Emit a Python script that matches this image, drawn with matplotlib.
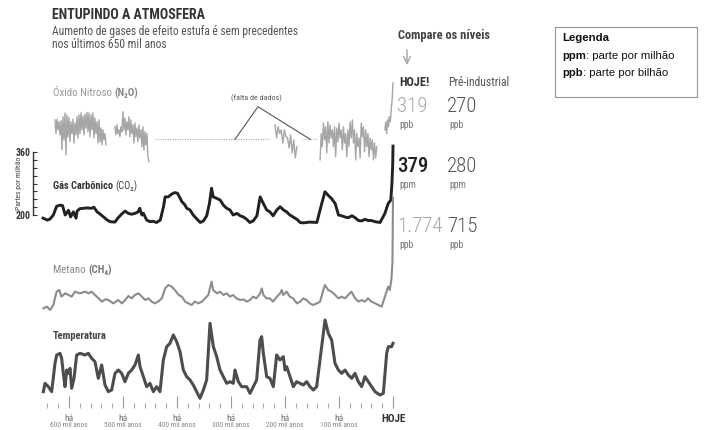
import numpy as np
import matplotlib
matplotlib.use("Agg")
import matplotlib.pyplot as plt
from matplotlib import font_manager
from matplotlib.patches import Rectangle, FancyArrowPatch
from matplotlib.transforms import blended_transform_factory

# ---------------- data (time = thousand years before present) ----------------
co2_time = [648, 640, 635, 629, 623, 617, 612, 607, 601, 597, 592, 587, 585, 580, 567, 558, 554, 548, 543, 536,
            530, 524, 515, 509, 502, 496, 490, 484, 478, 472, 469, 465, 462, 459, 456, 450, 444, 438, 431, 425,
            422, 416, 410, 404, 399, 394, 391, 385, 382, 376, 370, 364, 357, 351, 345, 340, 336, 333, 326, 320,
            314, 308, 302, 296, 289, 283, 277, 271, 265, 259, 252, 246, 240, 234, 228, 222, 215, 209, 203, 197,
            191, 185, 178, 172, 166, 154, 141, 132, 126, 120, 114, 107, 101, 95, 89, 83, 76, 70, 64, 58,
            52, 46, 40, 33, 24, 15, 9, 4, 2, 0.5, 0]
co2_ppm = [192, 187, 190, 200, 222, 225, 224, 200, 212, 195, 208, 192, 210, 216, 218, 217, 220, 208, 203, 195,
           188, 183, 182, 193, 203, 210, 204, 202, 204, 208, 217, 200, 204, 195, 187, 183, 184, 181, 187, 221,
           246, 246, 253, 257, 255, 242, 234, 225, 217, 213, 200, 191, 181, 185, 198, 229, 268, 246, 242, 238,
           225, 217, 213, 200, 204, 198, 195, 189, 181, 185, 198, 246, 229, 213, 208, 198, 213, 221, 213, 208,
           200, 195, 189, 181, 180, 182, 181, 229, 259, 250, 242, 229, 200, 198, 195, 193, 198, 193, 186, 185,
           189, 186, 186, 183, 181, 204, 229, 238, 280, 330, 375]

ch4_time = [647.5, 641, 635, 629, 623, 618, 614, 607, 601, 595, 589, 580, 570, 564, 558, 552, 545, 539, 533, 527,
            518, 509, 502, 496, 490, 484, 478, 471, 465, 459, 453, 447, 441, 435, 428, 422, 416, 410, 404, 397,
            391, 385, 379, 373, 367, 360, 354, 348, 342, 336, 333, 326, 320, 314, 308, 302, 296, 290, 283, 277,
            271, 265, 259, 253, 246, 243, 240, 234, 228, 222, 215, 209, 206, 203, 197, 191, 185, 178, 172, 166,
            160, 154, 148, 141, 135, 129, 126, 120, 114, 107, 101, 95, 89, 83, 77, 70, 64, 58, 52, 46,
            40, 33, 27, 21, 15, 9, 6, 3, 1, 0]
ch4_ppb = [351, 375, 328, 398, 585, 608, 515, 561, 538, 515, 585, 561, 585, 561, 585, 538, 491, 445, 477, 468,
           421, 468, 421, 468, 524, 491, 538, 561, 515, 468, 491, 445, 421, 445, 491, 631, 678, 655, 608, 538,
           515, 445, 421, 398, 445, 421, 445, 491, 538, 725, 608, 561, 585, 538, 561, 515, 538, 491, 468, 477,
           445, 468, 515, 491, 561, 631, 538, 491, 491, 445, 515, 561, 608, 538, 585, 515, 491, 421, 445, 491,
           468, 421, 398, 421, 445, 608, 678, 608, 585, 538, 491, 515, 491, 538, 585, 491, 445, 468, 445, 491,
           445, 421, 398, 375, 515, 655, 608, 748, 1000, 1900]

temp_time = [647.5, 644.4, 638.3, 632.1, 625.9, 622.8, 616.7, 613.6, 610.5, 607.4,
             604.3, 601.2, 598.1, 595.1, 590.7, 585.8, 579.6, 570.4, 564.2, 558.0,
             551.9, 545.7, 539.5, 533.3, 527.2, 521.0, 514.8, 508.6, 502.5, 496.3,
             490.1, 483.9, 477.8, 471.6, 468.5, 462.3, 456.2, 450.0, 443.8, 437.7,
             431.5, 425.3, 419.1, 413.0, 406.8, 400.6, 394.4, 388.3, 382.1, 375.9,
             369.8, 363.6, 357.4, 351.2, 345.1, 338.9, 332.7, 326.5, 320.4, 314.2,
             308.0, 301.9, 295.7, 292.6, 286.4, 280.2, 271.0, 264.8, 258.6, 252.5,
             246.3, 243.2, 240.1, 233.9, 227.8, 221.6, 215.4, 209.3, 203.1, 200.0,
             196.9, 190.7, 184.6, 178.4, 172.2, 166.0, 159.9, 153.7, 147.5, 141.4,
             132.1, 125.9, 119.8, 113.6, 107.4, 101.2, 95.1, 88.9, 82.7, 76.5,
             70.4, 64.2, 58.0, 51.9, 45.7, 39.5, 33.3, 24.1, 17.9, 11.7,
             8.6, 2.5, 0]
temp_anom = [-8.9, -7.4, -8.0, -8.9, -3.8, -2.3, -2.0, -2.9, -5.6, -8.0,
             -5.0, -5.6, -4.7, -8.3, -6.5, -2.3, -2.0, -2.3, -2.0, -2.9,
             -3.5, -6.5, -4.1, -7.7, -8.9, -8.6, -5.6, -5.0, -5.6, -7.1,
             -5.6, -5.0, -4.1, -2.3, -4.4, -6.2, -8.0, -7.4, -8.9, -8.0,
             -8.9, -3.2, -0.8, -0.2, 1.3, 0.1, -1.7, -5.0, -6.2, -6.8,
             -7.7, -8.9, -10.1, -8.6, -6.8, 3.4, -0.8, -2.6, -5.0, -6.2,
             -7.4, -7.1, -7.4, -5.0, -7.1, -8.0, -8.0, -9.2, -8.0, -6.8,
             0.4, 1.0, -2.0, -6.2, -6.5, -8.0, -2.3, -3.2, -2.6, -5.0,
             -4.4, -6.2, -8.0, -7.1, -7.4, -7.7, -7.1, -8.0, -8.6, -8.0,
             -0.8, 4.0, 1.6, 0.4, -3.8, -5.0, -5.6, -5.0, -5.9, -6.5,
             -5.6, -7.1, -8.0, -6.2, -7.1, -8.0, -8.9, -9.5, -9.2, -2.0,
             -0.8, -0.8, -0.2]

# N2O: segments of evenly sampled record (start, end in kyr ago) + values in ppb
n2o_spans = [(626, 531.5), (515, 452), (218.5, 178), (135, 30), (15, 0)]
n2o_seg1 = [269, 247, 270, 253, 266, 245, 268, 221, 274, 237, 280, 213, 277, 242, 273, 234, 266, 247, 270, 232,
            264, 245, 274, 240, 277, 247, 280, 253, 275, 245, 278, 256, 281, 250, 280, 242, 277, 253, 280, 240,
            272, 247, 266, 232, 269, 234, 256, 229, 253, 237, 247, 229]
n2o_seg2 = [258, 245, 261, 247, 253, 242, 258, 250, 282, 253, 272, 245, 266, 253, 274, 242, 269, 247, 261, 232,
            264, 242, 256, 234, 261, 240, 253, 226, 258, 221, 250, 229, 247, 210, 202]
n2o_seg3 = [261, 240, 258, 247, 253, 232, 253, 242, 240, 224, 245, 216, 237, 208, 226]
n2o_seg4 = [205, 247, 226, 264, 237, 258, 216, 266, 232, 261, 240, 253, 226, 258, 210, 256, 234, 264, 240, 253,
            221, 258, 232, 247, 210, 253, 226, 266, 240, 269, 232, 253, 205, 247, 226, 240, 208, 264, 242, 258,
            218, 253, 226, 247, 210, 240, 221, 237, 205, 232, 208, 226]
n2o_seg5 = [253, 266, 247, 269, 258, 274, 266, 285, 301, 328]
n2o_segments = [n2o_seg1, n2o_seg2, n2o_seg3, n2o_seg4, n2o_seg5]
n2o_gaps = [(441, 228), (166, 141)]   # missing data (kyr ago)
n2o_gap_level = 238

time_major = [600, 500, 400, 300, 200, 100, 0]
time_top = ["há", "há", "há", "há", "há", "há", "HOJE"]
time_bottom = ["600 mil anos", "500 mil anos", "400 mil anos", "300 mil anos",
               "200 mil anos", "100 mil anos", ""]

compare_today = ["319", "379", "1.774"]
compare_pre = ["270", "280", "715"]
compare_units = ["ppb", "ppm", "ppb"]

# ---------------- figure ----------------
W, H = 705, 430
fig = plt.figure(figsize=(W / 100, H / 100), dpi=100)
fig.patch.set_facecolor("white")

avail = {f.name for f in font_manager.fontManager.ttflist}
def pick(*names):
    for n in names:
        if n in avail:
            return n
    return "DejaVu Sans"
COND = pick("Roboto Condensed", "Liberation Sans Narrow", "Roboto")
SANS = pick("Roboto", "DejaVu Sans")
ARIAL = pick("Liberation Sans", "DejaVu Sans")
plt.rcParams["font.family"] = [SANS, "DejaVu Sans"]
C = [COND, "DejaVu Sans"]
A = [ARIAL, "DejaVu Sans"]

def fx(x): return x / W
def fy(y): return 1 - y / H

X0, X1 = 42, 393
T_MAX = 650

def panel(top, bottom, ylim):
    ax = fig.add_axes([fx(X0), fy(bottom), (X1 - X0) / W, (bottom - top) / H])
    ax.set_xlim(T_MAX, 0)
    ax.set_ylim(*ylim)
    ax.patch.set_alpha(0)
    for s in ax.spines.values():
        s.set_visible(False)
    ax.set_xticks([])
    ax.set_yticks([])
    return ax

# N2O panel
ax_n = panel(75, 170, (188.8, 340.8))
for (t0, t1), seg in zip(n2o_spans, n2o_segments):
    ax_n.plot(np.linspace(t0, t1, len(seg)), seg, color="#a6a6a6", lw=1.0, clip_on=False)
for g0, g1 in n2o_gaps:
    ax_n.plot([g0, g1], [n2o_gap_level, n2o_gap_level], color="#aaaaaa", lw=0.8,
              ls=(0, (1, 1.2)), clip_on=False)
apex_t, apex_v = 250, 290
left_t = 292.6
right_t = (n2o_gaps[1][0] + n2o_gaps[1][1]) / 2
ax_n.plot([left_t, apex_t, right_t], [n2o_gap_level, apex_v, n2o_gap_level], color="#555555", lw=0.8)
ax_n.text(apex_t + 3, apex_v + 13, "(falta de dados)", ha="center", va="center",
          fontsize=5.8, color="#555555", family=C)

# CO2 panel with axis
ax_c = panel(140, 235, (149.2, 390.5))
ax_c.plot(co2_time, co2_ppm, color="#222222", lw=2.1, solid_joinstyle="round", clip_on=False)
ax_c.spines["left"].set_visible(True)
ax_c.spines["left"].set_position(("outward", 6.5))
ax_c.spines["left"].set_bounds(200, 360)
ax_c.spines["left"].set_color("#333333")
ax_c.spines["left"].set_linewidth(1.0)
yt = list(range(200, 361, 20))
ax_c.set_yticks(yt)
ax_c.set_yticklabels([str(v) if v in (200, 360) else "" for v in yt])
ax_c.tick_params(axis="y", direction="in", length=3, width=0.8, color="#333333", pad=2,
                 labelsize=7, labelcolor="#333333")
for lb in ax_c.get_yticklabels():
    lb.set_fontweight("bold")
    lb.set_family(C)
ax_c.set_ylabel("Partes por milhão", fontsize=5.5, color="#444444", family=C)
ax_c.yaxis.set_label_coords((22 - X0) / (X1 - X0), (235 - 183) / 95)

# CH4 panel
ax_m = panel(190, 320, (188, 2008))
ax_m.plot(ch4_time, ch4_ppb, color="#8c8c8c", lw=1.5, clip_on=False)

# Temperature panel
ax_t = panel(310, 402, (-10.76, 5.8))
ax_t.plot(temp_time, temp_anom, color="#4d4d4d", lw=2.2, solid_joinstyle="round", clip_on=False)

# time axis
axx = fig.add_axes([fx(X0), fy(408), (X1 - X0) / W, 13 / H])
axx.set_xlim(T_MAX, 0)
axx.patch.set_alpha(0)
for s in axx.spines.values():
    s.set_visible(False)
axx.set_yticks([])
axx.set_xticks(time_major)
axx.set_xticklabels(time_top)
axx.set_xticks([v for v in range(640, 0, -20) if v % 100 != 0], minor=True)
axx.tick_params(axis="x", which="major", direction="in", length=8.6, width=0.8, color="#999999",
                pad=4, labelsize=6.8, labelcolor="#777777")
axx.tick_params(axis="x", which="minor", direction="in", length=3.6, width=0.8, color="#aaaaaa")
for lb in axx.get_xticklabels():
    lb.set_family(C)
hoje = axx.get_xticklabels()[-1]
hoje.set_fontweight("bold")
hoje.set_color("#333333")
hoje.set_fontsize(8)
tr = blended_transform_factory(axx.transData, fig.transFigure)
for t, s in zip(time_major, time_bottom):
    if s:
        axx.text(t, fy(428.6), s, transform=tr, ha="center", va="bottom", fontsize=5.4,
                 color="#888888", family=C)

# ---------------- text ----------------
renderer = fig.canvas.get_renderer()

def ftext(x, y, s, **kw):
    kw.setdefault("va", "center")
    kw.setdefault("ha", "left")
    return fig.text(fx(x), fy(y), s, **kw)

def pair(x, y, s1, kw1, s2, kw2, gap=0):
    t1 = ftext(x, y, s1, **kw1)
    bb = t1.get_window_extent(renderer)
    ftext(bb.x1 + gap, y, s2, **kw2)

ftext(52, 15, "ENTUPINDO A ATMOSFERA", fontsize=10, fontweight="bold", color="#333333", family=C)
ftext(52, 31, "Aumento de gases de efeito estufa é sem precedentes", fontsize=8.3, color="#555555", family=C)
ftext(52, 45, "nos últimos 650 mil anos", fontsize=8.3, color="#555555", family=C)

pair(53, 93, "Óxido Nitroso ", dict(fontsize=7.8, color="#999999", family=C),
     "(N₂O)", dict(fontsize=7.8, color="#888888", fontweight="bold", family=C))
pair(53, 186, "Gás Carbônico ", dict(fontsize=7.5, color="#333333", fontweight="bold", family=C),
     "(CO₂)", dict(fontsize=7.5, color="#444444", family=C))
pair(53, 270, "Metano ", dict(fontsize=7.8, color="#888888", family=C),
     "(CH₄)", dict(fontsize=7.8, color="#777777", fontweight="bold", family=C))
ftext(53, 336, "Temperatura", fontsize=7.6, fontweight="bold", color="#444444", family=C)

# comparison column
ftext(398, 35, "Compare os níveis", fontsize=9, fontweight="bold", color="#444444", family=C)
fig.patches.append(FancyArrowPatch(
    (fx(407), fy(47)), (fx(407), fy(68)), transform=fig.transFigure, arrowstyle="->",
    mutation_scale=12, color="#aaaaaa", lw=1.1))
ftext(399, 83, "HOJE!", fontsize=8.8, fontweight="bold", color="#333333", family=C)
ftext(448, 83, "Pré-industrial", fontsize=8.4, color="#555555", family=C)

row_y = [107, 167, 227]
today_colors = ["#a8a8a8", "#222222", "#a8a8a8"]
today_weight = ["light", "medium", "light"]
for y, today, pre, unit, col, wt in zip(row_y, compare_today, compare_pre, compare_units,
                                        today_colors, today_weight):
    ftext(397, y, today, fontsize=15, color=col, fontweight=wt, family=C)
    ftext(447, y, pre, fontsize=15, color="#555555", fontweight="light", family=C)
    ftext(399, y + 18, unit, fontsize=7, color="#777777", family=C)
    ftext(449, y + 18, unit, fontsize=7, color="#777777", family=C)

# legend box
fig.patches.append(Rectangle((fx(555), fy(97)), (697 - 555) / W, (97 - 27) / H,
                             transform=fig.transFigure, fill=False, edgecolor="#444444",
                             lw=0.8, ls=(0, (1, 0.8))))
ftext(562, 38, "Legenda", fontsize=8.2, fontweight="bold", color="#111111", family=A)
pair(562, 56, "ppm", dict(fontsize=8.2, fontweight="bold", color="#111111", family=A),
     ": parte por milhão", dict(fontsize=8.2, color="#111111", family=A))
pair(562, 73, "ppb", dict(fontsize=8.2, fontweight="bold", color="#111111", family=A),
     ": parte por bilhão", dict(fontsize=8.2, color="#111111", family=A))

fig.savefig("out.png", dpi=100, facecolor="white")
